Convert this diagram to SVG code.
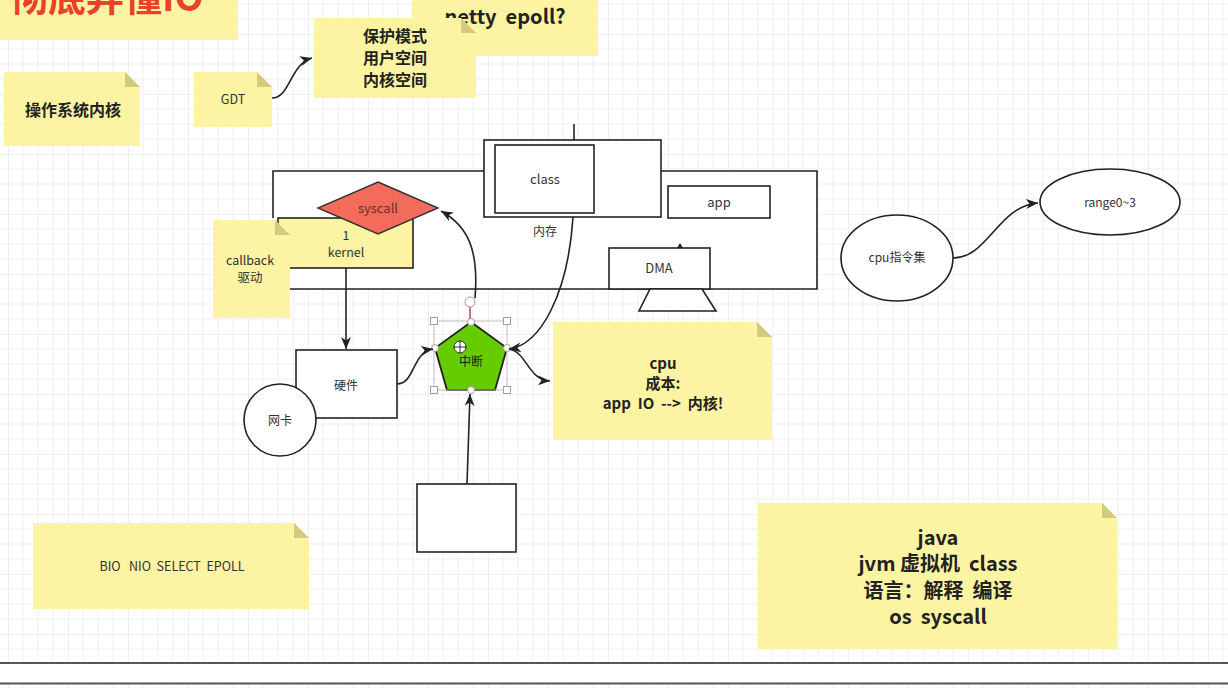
<svg xmlns="http://www.w3.org/2000/svg" width="1228" height="688" viewBox="0 0 1228 688" xml:space="preserve">
<defs>
<pattern id="grid" patternUnits="userSpaceOnUse" x="8" y="34" width="60" height="60">
<path d="M15,0V60M30,0V60M45,0V60M0,15H60M0,30H60M0,45H60" stroke="#efefef" stroke-width="1" fill="none"/>
<path d="M0,0V60M0,0H60" stroke="#e3e3e3" stroke-width="1.2" fill="none"/>
</pattern>
<marker id="arr" markerUnits="userSpaceOnUse" markerWidth="14" markerHeight="12" refX="12" refY="5" orient="auto">
<path d="M0,0 L12,5 L0,10 L3.5,5 Z" fill="#222"/>
</marker>
</defs>
<style>
.note{fill:#fcf4a3}
.fold{fill:#d2ca7e}
.box{fill:#fff;stroke:#222;stroke-width:1.6}
.con{fill:none;stroke:#222;stroke-width:1.6}
.t{font-family:"Noto Sans CJK SC","Liberation Sans",sans-serif;fill:#333;text-anchor:middle;white-space:pre}
.b{font-weight:bold;fill:#222}
.h{fill:#fff;stroke:#a89aa2;stroke-width:1}
</style>
<rect width="1228" height="688" fill="#fff"/>
<rect width="1228" height="688" fill="url(#grid)"/>

<g id="title">
<rect class="note" x="0" y="0" width="238" height="40"/>
<text class="t b" x="10" y="11" style="text-anchor:start;fill:#e8412c" font-size="38">彻底弄懂IO</text>
</g>

<g id="netty-note">
<rect class="note" x="412" y="0" width="186" height="56"/>
<text class="t b" x="505" y="24" font-size="20">netty  epoll?</text>
</g>

<g id="mode-note">
<path class="note" d="M314,18H461L476,33V98H314Z"/>
<path class="fold" d="M461,18V33H476Z"/>
<text class="t b" x="395" y="42" font-size="16">保护模式</text>
<text class="t b" x="395" y="64" font-size="16">用户空间</text>
<text class="t b" x="395" y="86" font-size="16">内核空间</text>
</g>

<g id="os-note">
<path class="note" d="M4,72H125L140,87V146H4Z"/>
<path class="fold" d="M125,72V87H140Z"/>
<text class="t b" x="73" y="116" font-size="16">操作系统内核</text>
</g>

<g id="gdt-note">
<path class="note" d="M194,72H257L272,87V127H194Z"/>
<path class="fold" d="M257,72V87H272Z"/>
<text class="t" x="233" y="104" font-size="12.5">GDT</text>
</g>

<g id="kernel-area">
<path class="box" d="M273,218V171H817V289H273"/>
</g>

<g id="memory">
<rect class="box" x="484" y="140" width="177" height="77"/>
<text class="t" x="545" y="236" font-size="12">内存</text>
</g>

<g id="class">
<rect class="box" x="495" y="145" width="99" height="68"/>
<text class="t" x="545" y="184" font-size="13">class</text>
</g>

<g id="app">
<rect class="box" x="668" y="186" width="102" height="32"/>
<text class="t" x="719" y="207" font-size="13">app</text>
</g>

<g id="dma">
<rect class="box" x="609" y="248" width="101" height="41"/>
<text class="t" x="659" y="273" font-size="13">DMA</text>
<path class="box" d="M650,289H702L716,311H639Z"/>
</g>

<g id="kernel">
<rect x="278" y="218" width="135" height="50" fill="#fcf4a3" stroke="#222" stroke-width="1.6"/>
<text class="t" x="346" y="240" font-size="12.5">1</text>
<text class="t" x="346" y="257" font-size="12.5">kernel</text>
</g>

<g id="syscall">
<path d="M378,182L438,208L378,234L318,208Z" fill="#f26b5b" stroke="#333" stroke-width="1.4"/>
<text class="t" x="378" y="213" font-size="13" style="fill:#6a2e28">syscall</text>
</g>

<g id="callback-note">
<path class="note" d="M213,220H275L290,235V318H213Z"/>
<path class="fold" d="M275,220V235H290Z"/>
<text class="t" x="250" y="265" font-size="12.5">callback</text>
<text class="t" x="250" y="282" font-size="12.5">驱动</text>
</g>

<g id="hardware">
<rect class="box" x="296" y="350" width="101" height="68"/>
<text class="t" x="346" y="390" font-size="12">硬件</text>
</g>

<g id="nic">
<circle class="box" cx="280" cy="420" r="36"/>
<text class="t" x="280" y="425" font-size="12">网卡</text>
</g>

<g id="interrupt">
<path d="M471,322L507,348L495,390L447,390L435,348Z" fill="#66cc00" stroke="#222" stroke-width="1.8"/>
<text class="t" x="471" y="366" font-size="12" style="fill:#222">中断</text>
<rect x="434" y="321" width="73" height="69" fill="none" stroke="#c9b8c0" stroke-width="1"/>
<line x1="470" y1="307" x2="470" y2="321" stroke="#b04868" stroke-width="1.5"/>
<circle class="h" cx="470" cy="302" r="5"/>
<rect class="h" x="430.5" y="317.5" width="7" height="7"/>
<rect class="h" x="503.5" y="317.5" width="7" height="7"/>
<rect class="h" x="430.5" y="386.5" width="7" height="7"/>
<rect class="h" x="503.5" y="386.5" width="7" height="7"/>
<circle class="h" cx="471" cy="322" r="3.5"/>
<circle class="h" cx="435" cy="348" r="3.5"/>
<circle class="h" cx="507" cy="348" r="3.5"/>
<circle class="h" cx="471" cy="390" r="3.5"/>
<g stroke="#333" stroke-width="1" fill="#fff">
<circle cx="460" cy="347" r="6"/>
<path d="M460,340V354M453,347H467" fill="none"/>
</g>
</g>

<g id="cpu-note">
<path class="note" d="M553,322H757L772,337V440H553Z"/>
<path class="fold" d="M757,322V337H772Z"/>
<text class="t b" x="663" y="369" font-size="15">cpu</text>
<text class="t b" x="663" y="389" font-size="15">成本:</text>
<text class="t b" x="663" y="409" font-size="15">app  IO  --&gt;  内核!</text>
</g>

<g id="device">
<rect class="box" x="417" y="484" width="99" height="68"/>
</g>

<g id="io-note">
<path class="note" d="M33,523H294L309,538V609H33Z"/>
<path class="fold" d="M294,523V538H309Z"/>
<text class="t" x="172" y="571" font-size="12.5">BIO   NIO  SELECT  EPOLL</text>
</g>

<g id="java-note">
<path class="note" d="M758,503H1102L1117,518V649H758Z"/>
<path class="fold" d="M1102,503V518H1117Z"/>
<text class="t b" x="938" y="545" font-size="20">java</text>
<text class="t b" x="938" y="571" font-size="20">jvm 虚拟机  class</text>
<text class="t b" x="938" y="598" font-size="20">语言：解释  编译</text>
<text class="t b" x="938" y="624" font-size="20">os  syscall</text>
</g>

<g id="cpu-isa">
<ellipse class="box" cx="897" cy="258" rx="56" ry="43"/>
<text class="t" x="897" y="262" font-size="12">cpu指令集</text>
</g>

<g id="range">
<ellipse class="box" cx="1110" cy="202" rx="70" ry="33"/>
<text class="t" x="1110" y="207" font-size="12">range0~3</text>
</g>

<g id="connectors">
<path class="con" d="M272,98C290,98 290,64 312,58" marker-end="url(#arr)"/>
<path class="con" d="M953,258C988,258 998,206 1038,203" marker-end="url(#arr)"/>
<path class="con" d="M346,268V349" marker-end="url(#arr)"/>
<path class="con" d="M397,384C415,384 412,352 433,349" marker-end="url(#arr)"/>
<path class="con" d="M475,298C479,250 468,226 441,211" marker-end="url(#arr)"/>
<path class="con" d="M573,217C568,295 540,345 509,349" marker-end="url(#arr)"/>
<path class="con" d="M509,349C527,352 528,380 550,381" marker-end="url(#arr)"/>
<path class="con" d="M467,484L470,394" marker-end="url(#arr)"/>
<path class="con" d="M574,124V140"/>
<path d="M677,248L680,243L683,248Z" fill="#222"/>
</g>

<g id="bottom-bar">
<rect x="0" y="663" width="1228" height="20" fill="#fff"/>
<path d="M0,663H1228M0,683.5H1228" stroke="#555" stroke-width="2"/>
</g>
</svg>
